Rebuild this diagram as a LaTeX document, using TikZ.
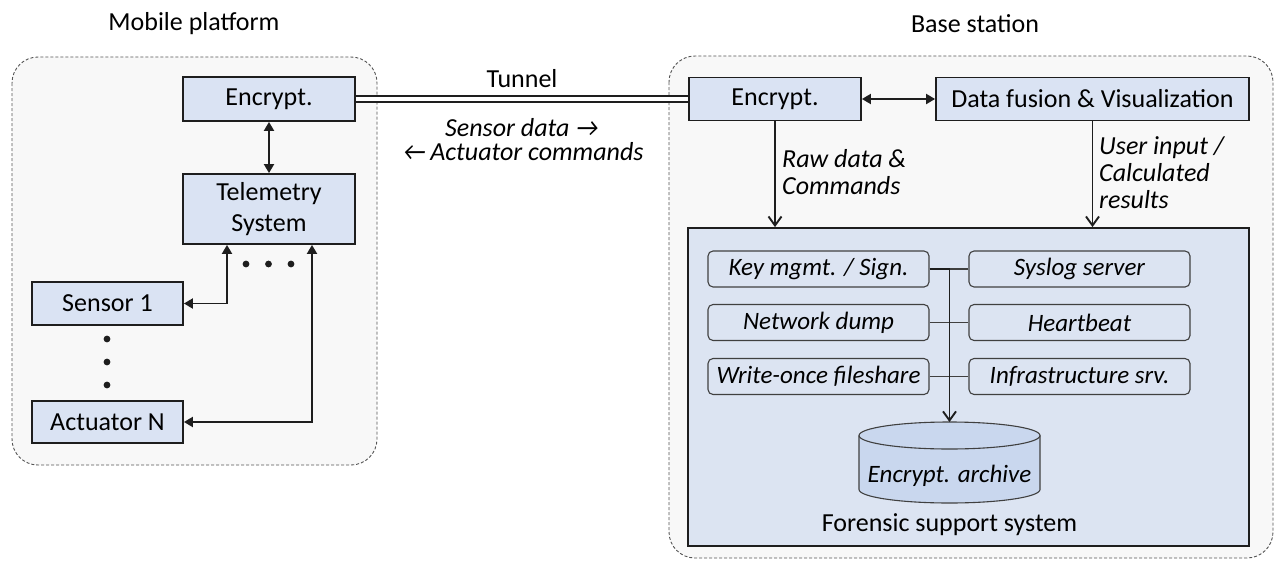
\documentclass[tikz,border=0pt]{standalone}
\usepackage{fontspec}
\setmainfont{Carlito}
\usetikzlibrary{arrows.meta,calc}
\definecolor{boxblue}{HTML}{DAE3F3}
\definecolor{fssblue}{HTML}{DCE4F2}
\definecolor{cylblue}{HTML}{C9D7EE}
\definecolor{contfill}{HTML}{F8F8F8}
\definecolor{contline}{HTML}{555555}
\definecolor{edge}{HTML}{1E1E1E}
\tikzset{
 container/.style={draw=contline, fill=contfill, line width=0.9pt, dash pattern=on 3pt off 2pt, rounded corners=26pt},
 bluebox/.style={draw=edge, fill=boxblue, line width=1.8pt, inner sep=0pt, align=center, font=\fontsize{26}{31}\selectfont},
 subbox/.style={draw=edge!85, line width=1.1pt, rounded corners=5pt, minimum width=221pt, minimum height=36pt, inner sep=0pt, font=\fontsize{25}{30}\selectfont\itshape},
 conn/.style={line width=1.9pt, draw=edge},
 thinconn/.style={line width=1.1pt, draw=edge!85},
 biarrow/.style={conn, {Triangle[length=9pt,width=10pt]}-{Triangle[length=9pt,width=10pt]}},
 openarrow/.style={conn, -{Straight Barb[length=9pt,width=13pt]}},
 lbl/.style={font=\fontsize{26}{31}\selectfont, inner sep=0pt},
 ilbl/.style={font=\fontsize{26}{27}\selectfont\itshape, inner sep=0pt, align=left},
 dotmark/.style={fill=edge},
}
\begin{document}
\begin{tikzpicture}[x=1pt,y=-1pt]
\useasboundingbox (0,0) rectangle (1279,562);
\fill[white] (0,0) rectangle (1279,562);

% containers
\draw[container] (12,57) rectangle (377,465);
\draw[container] (669,56) rectangle (1273,558);

% titles
\node[lbl] (tmob) at (194,24) {Mobile platform};
\node[lbl] (tbase) at (975,24) {Base station};

% mobile platform
\node[bluebox, minimum width=172pt, minimum height=44pt] (enc1) at (269,99) {Encrypt.};
\node[bluebox, minimum width=172pt, minimum height=70pt] (tel) at (269,209) {Telemetry\\System};
\node[bluebox, minimum width=151pt, minimum height=43pt] (sens) at (107.5,303.5) {Sensor 1};
\node[bluebox, minimum width=151pt, minimum height=42pt] (act) at (107.5,422) {Actuator N};

\draw[biarrow] (enc1.south) -- (tel.north);
\draw[biarrow] (sens.east) -| ([xshift=-42pt]tel.south);
\draw[biarrow] (act.east) -| ([xshift=43pt]tel.south);

\fill[dotmark] (246,264) circle[radius=3.4pt];
\fill[dotmark] (268.5,264) circle[radius=3.4pt];
\fill[dotmark] (291,264) circle[radius=3.4pt];
\fill[dotmark] (107,339) circle[radius=3.4pt];
\fill[dotmark] (107,362) circle[radius=3.4pt];
\fill[dotmark] (107,385) circle[radius=3.4pt];

% base station
\node[bluebox, minimum width=172pt, minimum height=43pt] (enc2) at (775,99) {Encrypt.};
\node[bluebox, minimum width=313pt, minimum height=43pt] (fus) at (1092.5,99) {Data fusion \& Visualization};
\node[draw=edge, fill=fssblue, line width=1.8pt, minimum width=561pt, minimum height=318pt, inner sep=0pt] (fss) at (968.5,387) {};

% tunnel
\draw[line width=2.2pt, draw=edge, double=white, double distance=3.8pt] (enc1.east) -- (enc2.west);
\node[lbl] (tun) at (522,79) {Tunnel};
\node[ilbl] (sd) at (522,128) {Sensor data →};
\node[ilbl] (ac) at (523,152) {←\,Actuator commands};

\draw[biarrow] (enc2.east) -- (fus.west);
\draw[openarrow] (enc2.south) -- (enc2.south |- fss.north);
\draw[openarrow] (fus.south) -- (fus.south |- fss.north);
\node[ilbl, anchor=west] (rawl) at (782,172) {Raw data \&\\Commands};
\node[ilbl, anchor=west] (usrl) at (1099,173) {User input /\\Calculated\\results};

% forensic internals
\node[subbox] (key) at (818.5,269) {Key mgmt. / Sign.};
\node[subbox] (sys) at (1079.5,269) {Syslog server};
\node[subbox] (net) at (818.5,322.5) {Network dump};
\node[subbox] (hb) at (1079.5,322.5) {Heartbeat};
\node[subbox] (wr) at (818.5,376.5) {Write-once fileshare};
\node[subbox] (inf) at (1079.5,376.5) {Infrastructure srv.};

\draw[thinconn] (key.east) -- (sys.west);
\draw[thinconn] (net.east) -- (hb.west);
\draw[thinconn] (wr.east) -- (inf.west);

% archive cylinder
\filldraw[draw=edge!85, fill=cylblue, line width=1.1pt]
  (859,435.5) -- (859,489.5) arc[start angle=180, end angle=360, x radius=90.5pt, y radius=13.5pt]
  -- (1040,435.5) arc[start angle=0, end angle=180, x radius=90.5pt, y radius=13.5pt] -- cycle;
\draw[draw=edge!85, line width=1.1pt] (859,435.5) arc[start angle=180, end angle=360, x radius=90.5pt, y radius=13.5pt];
\coordinate (cyltop) at (949.5,422);
\coordinate (jn) at (949.5,269);
\node[font=\fontsize{25}{30}\selectfont\itshape, inner sep=0pt] (arch) at (949.5,476) {Encrypt. archive};

\draw[openarrow] (key.east) -- (jn) -- (cyltop);

\node[lbl] (fssl) at (949.5,525) {Forensic support system};
\end{tikzpicture}
\end{document}
